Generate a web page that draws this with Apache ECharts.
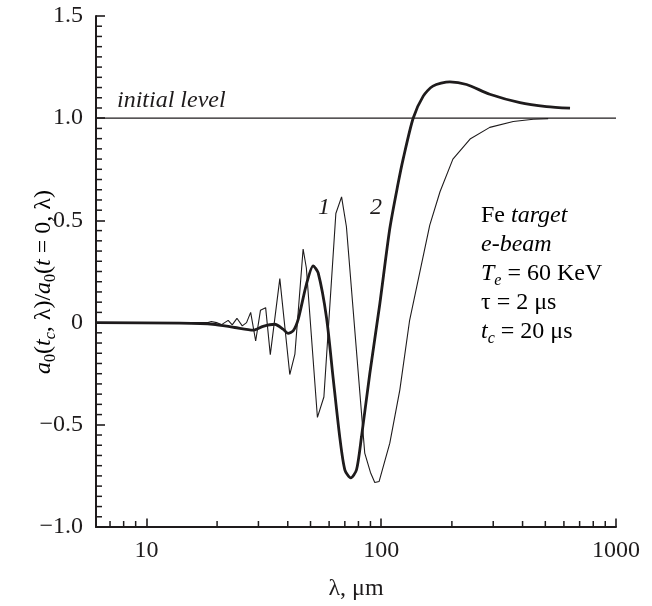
<!DOCTYPE html>
<html>
<head>
<meta charset="utf-8">
<script src="https://cdn.jsdelivr.net/npm/echarts@6/dist/echarts.min.js"></script>
<style>
  html, body { margin: 0; padding: 0; background: #fff; }
  #chart { width: 652px; height: 606px; }
</style>
</head>
<body>
<div id="chart"></div>
<script>
// ---- data ----
const lambda1 = [6.1, 18.3, 18.9, 19.9, 20.9, 22.3, 23.2, 24.3, 25.6, 26.7, 27.8, 29.2, 30.6, 32.2, 33.7, 37.0, 40.8, 42.9, 46.5, 48.0, 53.5, 57.0, 64.1, 67.8, 71.1, 85.1, 90.0, 93.9, 98.0, 108.8, 120, 132, 161, 178, 202, 239, 290, 365, 444, 514];
const values1 = [0, 0, 0.005, 0, -0.01, 0.011, -0.011, 0.021, -0.016, 0, 0.05, -0.09, 0.06, 0.073, -0.157, 0.215, -0.254, -0.154, 0.36, 0.267, -0.464, -0.364, 0.534, 0.615, 0.469, -0.639, -0.733, -0.782, -0.777, -0.59, -0.33, 0.008, 0.477, 0.64, 0.80, 0.898, 0.955, 0.984, 0.995, 0.998];

const lambda2 = [6.1, 13.9, 19.2, 23.8, 28.5, 31.4, 35.2, 38.2, 40.1, 42.2, 44.3, 48.0, 51.3, 53.9, 58.5, 62.4, 66.6, 70.0, 74.2, 78.5, 82.4, 89.4, 98.6, 108.8, 118, 124, 136.8, 151, 166, 196, 231, 290, 390, 506, 637];
const values2 = [0, -0.003, -0.008, -0.024, -0.037, -0.018, -0.008, -0.032, -0.053, -0.04, 0.016, 0.186, 0.278, 0.243, 0.024, -0.27, -0.56, -0.72, -0.76, -0.72, -0.56, -0.25, 0.09, 0.46, 0.68, 0.80, 1.0, 1.108, 1.157, 1.178, 1.165, 1.117, 1.076, 1.057, 1.049];

const initialLevel = 1.0;
const xMin = 6.1, xMax = 1000;
const xMajorTicks = [10, 100, 1000];
const xMinorTicks = [7, 8, 9, 20, 30, 40, 50, 60, 70, 80, 90, 200, 300, 400, 500, 600, 700, 800, 900];
const yMin = -1.0, yMax = 1.5, yStep = 0.5;
const yMinorTicks = [];
for (let k = -20; k <= 30; k++) { if (k % 10 !== 0) yMinorTicks.push(k / 20); }

// ---- chart ----
const INK = '#1e1b1c';
const FONT = 'Liberation Serif';
const FS = 24;

function pairs(xs, ys) { return xs.map((x, i) => [x, ys[i]]); }

const rich = {
  r: { fontFamily: FONT, fontSize: FS, color: INK, lineHeight: 30 },
  i: { fontFamily: FONT, fontSize: FS, fontStyle: 'italic', color: INK, lineHeight: 30 },
  s: { fontFamily: FONT, fontSize: 16, color: INK, lineHeight: 14, verticalAlign: 'bottom' },
  si: { fontFamily: FONT, fontSize: 16, fontStyle: 'italic', color: INK, lineHeight: 14, verticalAlign: 'bottom' }
};

const chart = echarts.init(document.getElementById('chart'), null, { renderer: 'canvas' });

const option = {
  animation: false,
  backgroundColor: '#ffffff',
  grid: { left: 96, right: 36, top: 16, bottom: 75, containLabel: false },
  xAxis: {
    type: 'log', logBase: 10, min: xMin, max: xMax, position: 'bottom',
    splitLine: { show: false }, minorSplitLine: { show: false },
    name: 'λ, μm',
    nameLocation: 'middle',
    nameGap: 50,
    nameTextStyle: { fontFamily: FONT, fontSize: FS, color: INK },
    axisLine: { show: true, onZero: false, lineStyle: { color: INK, width: 2 } },
    axisTick: { show: true, inside: true, length: 8.5, lineStyle: { color: INK, width: 1.6 }, customValues: xMajorTicks },
    axisLabel: { show: true, margin: 12, fontFamily: FONT, fontSize: FS, color: INK, customValues: xMajorTicks,
      formatter: v => String(Math.round(v)) }
  },
  yAxis: {
    type: 'value', min: yMin, max: yMax, interval: yStep, position: 'left',
    splitLine: { show: false }, minorSplitLine: { show: false },
    axisLine: { show: true, onZero: false, lineStyle: { color: INK, width: 2 } },
    axisTick: { show: true, inside: true, length: 9, lineStyle: { color: INK, width: 1.6 } },
    axisLabel: { margin: 13, fontFamily: FONT, fontSize: FS, color: INK,
      formatter: v => {
        if (Math.abs(v) < 1e-9) return '0';
        const s = Math.abs(v).toFixed(1);
        return v < 0 ? '\u2212' + s : s;
      } }
  },
  series: [
    {
      name: 'initial level', type: 'line', symbol: 'none',
      data: [[xMin, initialLevel], [xMax, initialLevel]],
      lineStyle: { color: INK, width: 1.3 }, z: 2
    },
    {
      name: '1', type: 'line', symbol: 'none',
      data: pairs(lambda1, values1),
      lineStyle: { color: INK, width: 1.1 }, z: 3
    },
    {
      name: '2', type: 'line', symbol: 'none', smooth: 0.25,
      data: pairs(lambda2, values2),
      lineStyle: { color: INK, width: 2.8 }, z: 4
    },
    {
      name: 'x minor ticks', type: 'scatter', clip: false, silent: true,
      symbol: 'rect', symbolSize: [1.5, 6], symbolOffset: [0, -3],
      itemStyle: { color: INK, opacity: 1 },
      data: xMinorTicks.map(v => [v, yMin]), z: 5
    },
    {
      name: 'y minor ticks', type: 'scatter', clip: false, silent: true,
      symbol: 'rect', symbolSize: [6, 1.5], symbolOffset: [3, 0],
      itemStyle: { color: INK, opacity: 1 },
      data: yMinorTicks.map(v => [xMin, v]), z: 5
    }
  ],
  graphic: [
    { type: 'text', x: 44, y: 282, rotation: Math.PI / 2,
      style: { text: '{i|a}{s|0}{r|(}{i|t}{si|c}{r|, λ)/}{i|a}{s|0}{r|(}{i|t}{r| = 0, λ)}', rich: rich,
               align: 'center', verticalAlign: 'middle' } },
    { type: 'text', left: 117, top: 89, style: { text: 'initial level', font: 'italic 24px "Liberation Serif"', fill: INK } },
    { type: 'text', left: 318, top: 196, style: { text: '1', font: 'italic 24px "Liberation Serif"', fill: INK } },
    { type: 'text', left: 370, top: 196, style: { text: '2', font: 'italic 24px "Liberation Serif"', fill: INK } },
    { type: 'text', left: 481, top: 204, style: { text: '{r|Fe }{i|target}', rich: rich } },
    { type: 'text', left: 481, top: 233, style: { text: '{i|e-beam}', rich: rich } },
    { type: 'text', left: 481, top: 262, style: { text: '{i|T}{si|e}{r| = 60 KeV}', rich: rich } },
    { type: 'text', left: 481, top: 291, style: { text: '{r|τ = 2 μs}', rich: rich } },
    { type: 'text', left: 481, top: 320, style: { text: '{i|t}{si|c}{r| = 20 μs}', rich: rich } }
  ]
};

chart.setOption(option);
</script>
</body>
</html>
